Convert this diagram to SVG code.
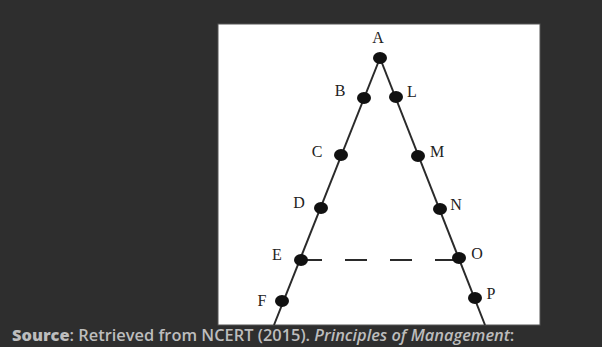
<svg xmlns="http://www.w3.org/2000/svg" width="602" height="347" viewBox="0 0 602 347">
<style>
.lbl{font-family:"Liberation Serif","Times New Roman",serif;font-size:16px;fill:#222;text-anchor:middle;dominant-baseline:central}
.dot{fill:#111}
.edge{stroke:#2a2a2a;stroke-width:2;fill:none}
.cap{font-family:"Open Sans","Noto Sans",sans-serif;font-size:16.4px;fill:#bdbdbd;font-weight:600}
</style>
<rect x="0" y="0" width="602" height="347" fill="#2e2e2e"/>
<rect x="218" y="24" width="322" height="301" fill="#ffffff" stroke="#555" stroke-width="1"/>
<g id="connectors">
<line class="edge" x1="380" y1="58" x2="274" y2="325"/>
<line class="edge" x1="380" y1="58" x2="485" y2="325"/>
<line class="edge" x1="300" y1="260" x2="459" y2="260" stroke-dasharray="22 23" stroke-width="2.2"/>
</g>
<g id="A"><ellipse class="dot" cx="380" cy="58" rx="7" ry="6"/><text class="lbl" x="378" y="37">A</text></g>
<g id="B"><ellipse class="dot" cx="364" cy="98" rx="7" ry="6"/><text class="lbl" x="340" y="90">B</text></g>
<g id="L"><ellipse class="dot" cx="396" cy="97" rx="7" ry="6"/><text class="lbl" x="412" y="91">L</text></g>
<g id="C"><ellipse class="dot" cx="341" cy="155" rx="7" ry="6"/><text class="lbl" x="317" y="151">C</text></g>
<g id="M"><ellipse class="dot" cx="418" cy="156" rx="7" ry="6"/><text class="lbl" x="437" y="151">M</text></g>
<g id="D"><ellipse class="dot" cx="321" cy="208" rx="7" ry="6"/><text class="lbl" x="299" y="202">D</text></g>
<g id="N"><ellipse class="dot" cx="440" cy="209" rx="7" ry="6"/><text class="lbl" x="456" y="204">N</text></g>
<g id="E"><ellipse class="dot" cx="301" cy="260" rx="7" ry="6"/><text class="lbl" x="277" y="254">E</text></g>
<g id="O"><ellipse class="dot" cx="459" cy="258" rx="7" ry="6"/><text class="lbl" x="477" y="253">O</text></g>
<g id="F"><ellipse class="dot" cx="282" cy="301" rx="7" ry="6"/><text class="lbl" x="262" y="300">F</text></g>
<g id="P"><ellipse class="dot" cx="475" cy="298" rx="7" ry="6"/><text class="lbl" x="491" y="293">P</text></g>
<text class="cap" x="12" y="341"><tspan font-weight="800">Source</tspan>: Retrieved from NCERT (2015). <tspan font-style="italic">Principles of Management</tspan>:</text>
</svg>
